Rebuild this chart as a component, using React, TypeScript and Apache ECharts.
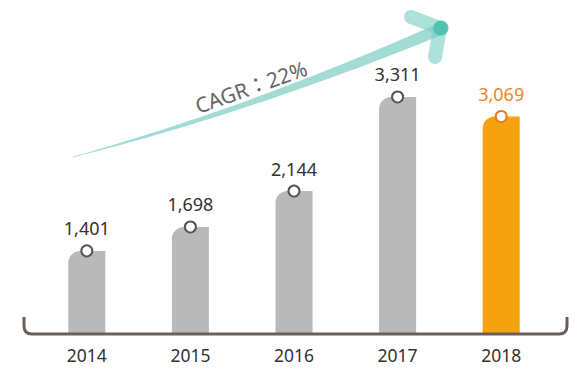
import React, { useEffect, useRef } from "react";
import * as echarts from "echarts";

const years: string[] = ["2014", "2015", "2016", "2017", "2018"];
const revenue: number[] = [1401, 1698, 2144, 3311, 3069];
const highlightIndex = 4;
const cagrText = "CAGR：22%";

const GRAY = "#bab9b9";
const ORANGE = "#f4a20e";
const ORANGE_TEXT = "#e5862c";

echarts.graphic.registerShape(
  "axisHook",
  echarts.graphic.extendPath(
    "M24 317 L24 326 Q24 334 32 334 L559 334 Q567 334 567 326 L567 317",
    {}
  )
);

function arrowBody(): number[][] {
  const p0 = [73, 157];
  const p1 = [250, 110];
  const p2 = [438, 30];
  const n = 40;
  const top: number[][] = [];
  const bot: number[][] = [];
  for (let i = 0; i <= n; i++) {
    const t = i / n;
    const x = (1 - t) * (1 - t) * p0[0] + 2 * (1 - t) * t * p1[0] + t * t * p2[0];
    const y = (1 - t) * (1 - t) * p0[1] + 2 * (1 - t) * t * p1[1] + t * t * p2[1];
    const dx = 2 * (1 - t) * (p1[0] - p0[0]) + 2 * t * (p2[0] - p1[0]);
    const dy = 2 * (1 - t) * (p1[1] - p0[1]) + 2 * t * (p2[1] - p1[1]);
    const len = Math.sqrt(dx * dx + dy * dy);
    const nx = -dy / len;
    const ny = dx / len;
    const hw = 0.4 + 5.6 * Math.pow(t, 1.1);
    top.push([x + nx * hw, y + ny * hw]);
    bot.push([x - nx * hw, y - ny * hw]);
  }
  return top.concat(bot.reverse());
}

export default function App() {
  const ref = useRef<HTMLDivElement>(null);
  useEffect(() => {
    if (!ref.current) return;
    const chart = echarts.init(ref.current, undefined, { renderer: "svg" });
    const font = "'Noto Sans', sans-serif";
    chart.setOption({
      animation: false,
      backgroundColor: "#ffffff",
      grid: { left: 35, right: 27, top: 60, bottom: 36 },
      xAxis: {
        type: "category",
        data: years,
        axisLine: { show: false },
        axisTick: { show: false },
        axisLabel: { color: "#333333", fontSize: 17.5, fontFamily: font, margin: 12 },
      },
      yAxis: {
        type: "value",
        min: 370,
        max: 3770,
        show: false,
        splitLine: { show: false },
      },
      series: [
        {
          type: "bar",
          barWidth: 37,
          data: revenue.map((v, i) => ({
            value: v,
            itemStyle: {
              color: i === highlightIndex ? ORANGE : GRAY,
              borderRadius: [12, 0, 0, 0],
            },
          })),
          z: 2,
        },
        {
          type: "line",
          data: revenue.map((v, i) => ({
            value: v,
            itemStyle: {
              color: "#ffffff",
              borderColor: i === highlightIndex ? "#e07d28" : "#555555",
              borderWidth: 2,
            },
            label: {
              color: i === highlightIndex ? ORANGE_TEXT : "#333333",
            },
          })),
          symbol: "circle",
          symbolSize: 11,
          lineStyle: { opacity: 0 },
          label: {
            show: true,
            position: "top",
            distance: 7,
            fontSize: 18,
            fontFamily: font,
            formatter: (p: any) => Number(p.value).toLocaleString("en-US"),
          },
          z: 5,
        },
      ],
      graphic: [
        {
          type: "axisHook",
          x: 0,
          y: 0,
          z: 10,
          style: { stroke: "#6c5f57", lineWidth: 3, fill: "none" },
        },
        {
          type: "polygon",
          z: 3,
          shape: { points: arrowBody() },
          style: { fill: "#a3dcd4" },
        },
        {
          type: "line",
          z: 4,
          shape: { x1: 440, y1: 28, x2: 411, y2: 17 },
          style: { stroke: "rgba(120,205,192,0.6)", lineWidth: 14, lineCap: "round" },
        },
        {
          type: "line",
          z: 4,
          shape: { x1: 440, y1: 28, x2: 435, y2: 57 },
          style: { stroke: "rgba(120,205,192,0.6)", lineWidth: 14, lineCap: "round" },
        },
        {
          type: "circle",
          z: 5,
          shape: { cx: 441, cy: 28, r: 7.5 },
          style: { fill: "rgba(70,190,170,0.85)" },
        },
        {
          type: "text",
          z: 6,
          x: 251,
          y: 87,
          rotation: 0.34,
          style: {
            text: cagrText,
            fontSize: 21,
            fontFamily: "'Noto Sans', 'Noto Sans CJK TC', sans-serif",
            fill: "#666666",
            align: "center",
            verticalAlign: "middle",
          },
        },
      ],
    });
    return () => chart.dispose();
  }, []);
  return (
    <div
      ref={ref}
      style={{ position: "fixed", left: 0, top: 0, width: 580, height: 370 }}
    />
  );
}
